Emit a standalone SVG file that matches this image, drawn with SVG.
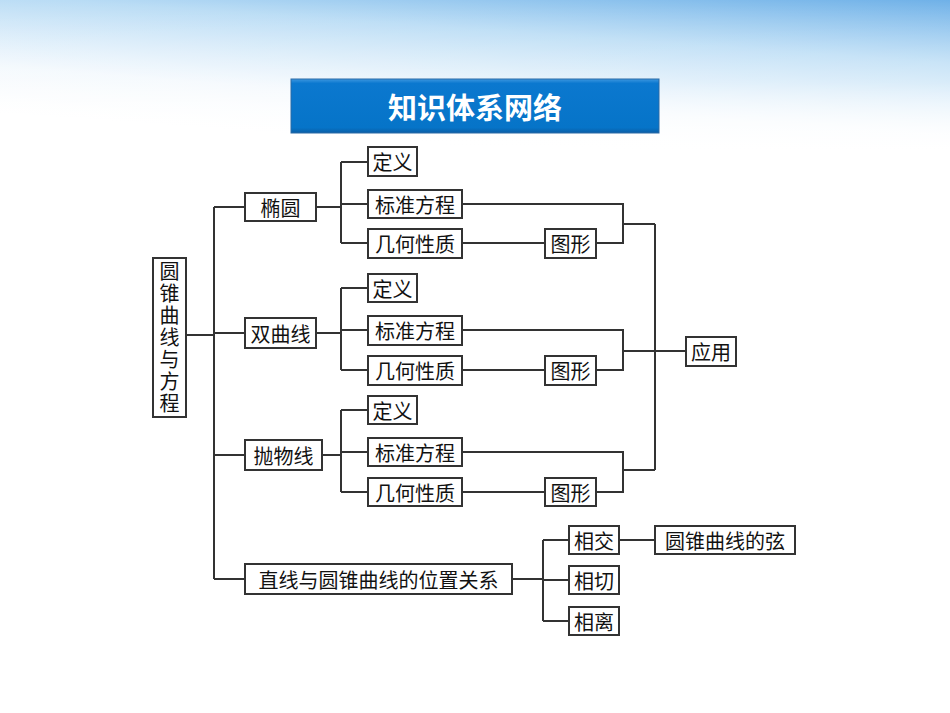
<svg xmlns="http://www.w3.org/2000/svg" width="950" height="713" viewBox="0 0 950 713">
<defs>
<linearGradient id="sky" x1="1" y1="0" x2="0.55" y2="1">
<stop offset="0" stop-color="#6fb1e8"/><stop offset="0.35" stop-color="#b9dcf5"/><stop offset="0.75" stop-color="#f2f8fd"/><stop offset="1" stop-color="#ffffff"/>
</linearGradient>
<linearGradient id="fade" x1="0" y1="0" x2="0" y2="1">
<stop offset="0" stop-color="#fff" stop-opacity="0"/><stop offset="0.55" stop-color="#fff" stop-opacity="0.3"/><stop offset="1" stop-color="#fff" stop-opacity="1"/>
</linearGradient>
<linearGradient id="tb" x1="0" y1="0" x2="0" y2="1">
<stop offset="0" stop-color="#3d97e0"/><stop offset="0.08" stop-color="#0b78cf"/><stop offset="0.9" stop-color="#0674c8"/><stop offset="1" stop-color="#0a5ea6"/>
</linearGradient>
<style>
.b{fill:#fff;stroke:#333;stroke-width:2}
.t{font-family:"Noto Sans CJK SC",sans-serif;font-size:20px;fill:#111;text-anchor:middle;dominant-baseline:central}
.c{fill:none;stroke:#333;stroke-width:2}
</style>
</defs>
<rect width="950" height="713" fill="#fff"/>
<rect width="950" height="150" fill="url(#sky)"/>
<rect width="950" height="150" fill="url(#fade)"/>
<g id="title">
<rect x="291" y="79" width="368" height="54" fill="url(#tb)" stroke="#2b6aa6" stroke-width="1"/>
<text x="475" y="106" style="font-family:'Noto Sans CJK SC',sans-serif;font-size:29px;font-weight:bold;fill:#fff;text-anchor:middle;dominant-baseline:central">知识体系网络</text>
</g>
<g id="connectors" class="c">
<path d="M186 335H214M214 207V579M214 207H245M214 333H245M214 455H245M214 579H245"/>
<path d="M316 207H341M341 162V243M341 162H368M341 204H368M341 243H368M462 243H545M462 204H623V243H596M623 224H655"/>
<path d="M316 333H341M341 288V370M341 288H368M341 330H368M341 370H368M462 370H545M462 330H623V370H596M623 351H655"/>
<path d="M322 455H341M341 410V492M341 410H368M341 452H368M341 492H368M462 492H545M462 452H623V492H596M623 470H655"/>
<path d="M655 224V470M655 351H686"/>
<path d="M512 579H543M543 540V621M543 540H569M543 580H569M543 621H569M619 540H655"/>
</g>
<g id="root"><rect class="b" x="153" y="258" width="33" height="159"/>
<text x="169.5" y="338" writing-mode="vertical-rl" letter-spacing="2" style="font-family:'Noto Sans CJK SC',sans-serif;font-size:20px;fill:#111;text-anchor:middle">圆锥曲线与方程</text></g>
<g id="n1"><rect class="b" x="245" y="193" width="71" height="28"/><text class="t" x="280.5" y="207">椭圆</text></g>
<g id="n2"><rect class="b" x="245" y="318" width="71" height="30"/><text class="t" x="280.5" y="333">双曲线</text></g>
<g id="n3"><rect class="b" x="245" y="440" width="77" height="30"/><text class="t" x="283.5" y="455">抛物线</text></g>
<g id="n4"><rect class="b" x="245" y="564" width="267" height="30"/><text class="t" x="378.5" y="579">直线与圆锥曲线的位置关系</text></g>
<g id="a1"><rect class="b" x="368" y="147" width="49" height="29"/><text class="t" x="392.5" y="161.5">定义</text></g>
<g id="a2"><rect class="b" x="368" y="190" width="94" height="28"/><text class="t" x="415" y="204">标准方程</text></g>
<g id="a3"><rect class="b" x="368" y="229" width="94" height="29"/><text class="t" x="415" y="243.5">几何性质</text></g>
<g id="a4"><rect class="b" x="545" y="229" width="51" height="29"/><text class="t" x="570.5" y="243.5">图形</text></g>
<g id="b1"><rect class="b" x="368" y="274" width="49" height="28"/><text class="t" x="392.5" y="288">定义</text></g>
<g id="b2"><rect class="b" x="368" y="316" width="94" height="29"/><text class="t" x="415" y="330.5">标准方程</text></g>
<g id="b3"><rect class="b" x="368" y="356" width="94" height="29"/><text class="t" x="415" y="370.5">几何性质</text></g>
<g id="b4"><rect class="b" x="545" y="356" width="51" height="29"/><text class="t" x="570.5" y="370.5">图形</text></g>
<g id="c1"><rect class="b" x="368" y="396" width="49" height="28"/><text class="t" x="392.5" y="410">定义</text></g>
<g id="c2"><rect class="b" x="368" y="438" width="94" height="28"/><text class="t" x="415" y="452">标准方程</text></g>
<g id="c3"><rect class="b" x="368" y="478" width="94" height="28"/><text class="t" x="415" y="492">几何性质</text></g>
<g id="c4"><rect class="b" x="545" y="478" width="51" height="28"/><text class="t" x="570.5" y="492">图形</text></g>
<g id="app"><rect class="b" x="686" y="337" width="50" height="29"/><text class="t" x="711" y="351.5">应用</text></g>
<g id="d1"><rect class="b" x="569" y="526" width="50" height="28"/><text class="t" x="594" y="540">相交</text></g>
<g id="d2"><rect class="b" x="569" y="566" width="50" height="28"/><text class="t" x="594" y="580">相切</text></g>
<g id="d3"><rect class="b" x="569" y="607" width="50" height="28"/><text class="t" x="594" y="621">相离</text></g>
<g id="d4"><rect class="b" x="655" y="526" width="140" height="28"/><text class="t" x="725" y="540">圆锥曲线的弦</text></g>
</svg>
